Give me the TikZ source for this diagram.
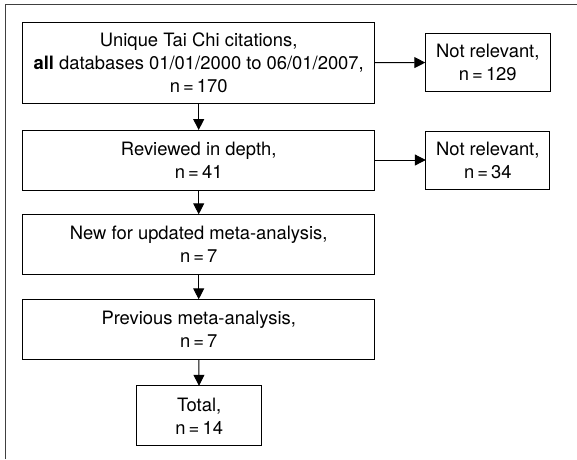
\documentclass[tikz,border=0pt]{standalone}
\usepackage{fontspec}
\setmainfont{TeX Gyre Heros}
\usetikzlibrary{arrows.meta}
\begin{document}
\begin{tikzpicture}[x=1pt, y=-1pt, font=\fontsize{18.4}{23}\selectfont, line join=miter,
	box/.style={draw, line width=1pt, align=center, inner sep=0pt, outer sep=0pt, anchor=center},
	arr/.style={-{Triangle[length=11pt, width=11pt]}, line width=1pt}]
	\useasboundingbox (0, 0) rectangle (577, 459);
	% Rahmen
	\draw[line width=1.4pt, black!75] (5.3, 459) -- (5.3, 4.7) -- (577, 4.7);
	
	% Hauptspalte
	\node[box, minimum width=352pt, minimum height=81pt] (cites) at (198.7, 62.8) {Unique Tai Chi citations,\\ \textbf{all} databases 01/01/2000 to 06/01/2007,\\ n\,=\,170};
	\node[box, minimum width=352pt, minimum height=60pt] (depth) at (198.7, 160) {Reviewed in depth,\\ n\,=\,41};
	\node[box, minimum width=352pt, minimum height=60pt] (newma) at (198.7, 244.3) {New for updated meta-analysis,\\ n\,=\,7};
	\node[box, minimum width=352pt, minimum height=60pt] (prevma) at (198.7, 329.3) {Previous meta-analysis,\\ n\,=\,7};
	\node[box, minimum width=125pt, minimum height=60pt] (total) at (199.2, 415.8) {Total,\\ n\,=\,14};
	
	% Ausschluss
	\node[box, minimum width=125pt, minimum height=58.4pt] (excl1) at (487.8, 62.5) {Not relevant,\\ n\,=\,129};
	\node[box, minimum width=124pt, minimum height=58pt] (excl2) at (487.8, 160) {Not relevant,\\ n\,=\,34};
	
	\draw[arr] (cites) -- (excl1);
	\draw[arr] (depth) -- (excl2);
	\draw[arr] (cites) -- (depth);
	\draw[arr] (depth) -- (newma);
	\draw[arr] (newma) -- (prevma);
	\draw[arr] (prevma) -- (total);
	
\end{tikzpicture}
\end{document}
